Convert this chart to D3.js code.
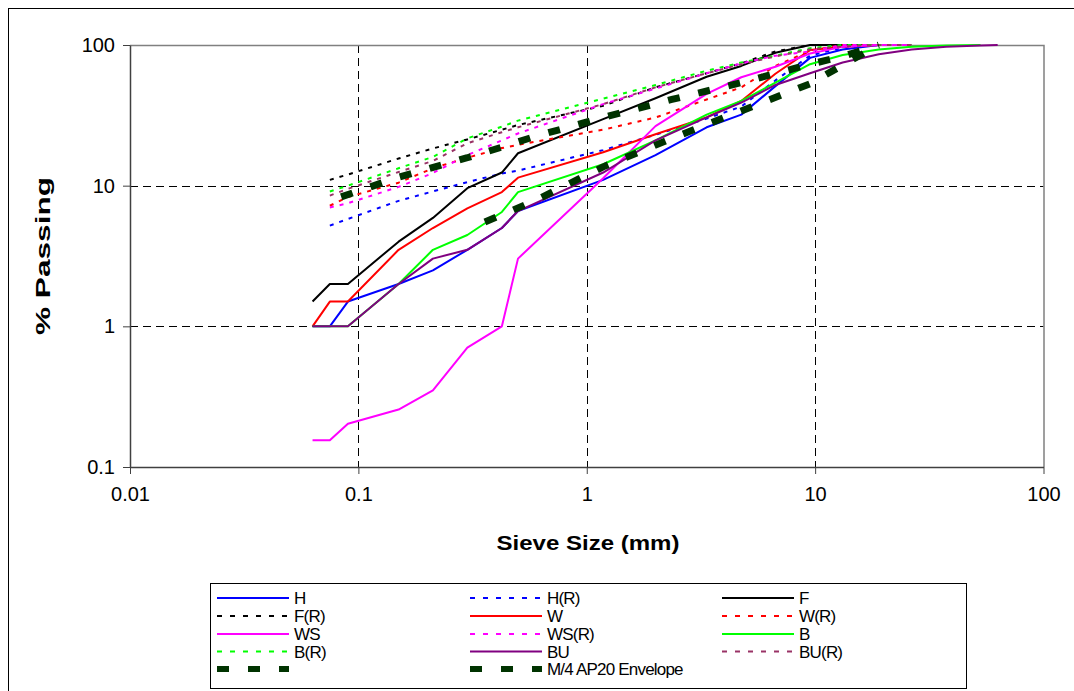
<!DOCTYPE html>
<html>
<head>
<meta charset="utf-8">
<script src="https://cdn.jsdelivr.net/npm/d3@7"></script>
<style>
  body { margin: 0; background: #fff; }
  svg { display: block; font-family: "Liberation Sans", Arial, sans-serif; }
</style>
</head>
<body>
<svg id="chart" width="1074" height="691"></svg>
<script>
// sieve sizes (mm) shared by the sample curves
var sieves = [0.063, 0.075, 0.09, 0.15, 0.212, 0.3, 0.425, 0.5, 1.18, 2, 3.35, 4.75, 6.7, 9.5, 13.2, 19, 26.5, 37.5, 53, 63];

// % passing (null = not tested)
var H    = [1, 1, 1.5, 2, 2.5, 3.5, 5, 6.6, 11, 16.5, 26, 32, 51, 81, 93, 100, 100, null, null, null];
var HR   = [null, 5.2, 5.8, 7.8, 9.1, 10.6, 12.2, 12.8, 17.9, 23, 30, 36.5, 56, 84, 96, 100, 100, null, null, null];
var F    = [1.5, 2, 2, 4, 5.9, 9.6, 12.4, 17, 29.7, 41.8, 59.5, 71, 88, 100, 100, 100, 100, null, null, null];
var FR   = [null, 11, 12, 15.6, 18.4, 21.3, 25, 27, 37, 50, 63, 74, 90, 100, 100, 100, 100, null, null, null];
var W    = [1, 1.5, 1.5, 3.5, 5, 6.9, 9, 11.4, 17.3, 23.2, 30.6, 40, 62.5, 92, 97, 100, 100, null, null, null];
var WR   = [null, 7.2, 8.3, 10.5, 13.3, 15.8, 18.5, 19.5, 25, 30.5, 41, 50, 71, 91, 100, 100, 100, null, null, null];
var WS   = [0.155, 0.155, 0.203, 0.256, 0.351, 0.705, 1, 3.03, 11.3, 26.5, 45, 59, 70, 87, 97, 100, 100, null, null, null];
var WSR  = [null, 7, 7.5, 9.8, 12.3, 16.5, 21, 23.5, 38, 49, 63, 74, 84, 90, 100, 100, 100, null, null, null];
var B    = [1, 1, 1, 2, 3.5, 4.46, 6.5, 9, 14.2, 21, 32, 40, 54, 73, 85, 93, 97, 99, 100, null];
var BR   = [null, 9.1, 10, 13.3, 16, 21.7, 26.3, 29, 41.6, 51.9, 65.7, 75, 84, 95, 100, 100, 100, null, null, null];
var BU   = [1, 1, 1, 2, 3.03, 3.5, 5, 6.6, 12.4, 21, 30.6, 39, 52, 63, 75, 86, 93, 97, 99, 100];
var BUR  = [null, 8.5, 9.5, 12.5, 15, 20, 24, 26, 38, 50, 63, 73, 83, 93, 98, 100, 100, null, null, null];

// M/4 AP20 grading envelope
var envSieves = [0.075, 0.15, 0.3, 0.425, 0.6, 1.18, 2.36, 4.75, 9.5, 13.2, 19];
var envUpper  = [7.8, 11.5, 15.8, 18.8, 22.5, 30.5, 41, 54, 73, 83, 100];
var envLower  = [null, null, 4.9, 6.2, 7.9, 13.6, 21.7, 34, 53, 72, 100];

var xTickValues = [0.01, 0.1, 1, 10, 100];
var xTickLabels = ["0.01", "0.1", "1", "10", "100"];
var yTickValues = [0.1, 1, 10, 100];
var yTickLabels = ["0.1", "1", "10", "100"];

var series = [
  {name: "H",     x: sieves, v: H,   color: "#0000ff", style: "solid"},
  {name: "H(R)",  x: sieves, v: HR,  color: "#0000ff", style: "dot"},
  {name: "F",     x: sieves, v: F,   color: "#000000", style: "solid"},
  {name: "F(R)",  x: sieves, v: FR,  color: "#000000", style: "dot"},
  {name: "W",     x: sieves, v: W,   color: "#ff0000", style: "solid"},
  {name: "W(R)",  x: sieves, v: WR,  color: "#ff0000", style: "dot"},
  {name: "WS",    x: sieves, v: WS,  color: "#ff00ff", style: "solid"},
  {name: "WS(R)", x: sieves, v: WSR, color: "#ff00ff", style: "dot"},
  {name: "B",     x: sieves, v: B,   color: "#00ff00", style: "solid"},
  {name: "B(R)",  x: sieves, v: BR,  color: "#00ff00", style: "dot"},
  {name: "BU",    x: sieves, v: BU,  color: "#800080", style: "solid"},
  {name: "BU(R)", x: sieves, v: BUR, color: "#993366", style: "dot"},
  {name: "",      x: envSieves, v: envLower, color: "#003300", style: "env", offset: 12},
  {name: "M/4 AP20 Envelope", x: envSieves, v: envUpper, color: "#003300", style: "env", offset: 19}
];

var svg = d3.select("#chart");

// outer chart border (runs off the right / bottom of the picture)
svg.append("rect")
  .attr("x", 8.5).attr("y", 8.5)
  .attr("width", 1100).attr("height", 700)
  .attr("fill", "none").attr("stroke", "#000");

var plot = {left: 130, right: 1043.5, top: 45, bottom: 467};

var x = d3.scaleLog().domain([0.01, 100]).range([plot.left, plot.right]);
var y = d3.scaleLog().domain([0.1, 100]).range([plot.bottom, plot.top]);

// grid
var grid = svg.append("g");
grid.selectAll(".gx")
  .data(xTickValues.slice(1, -1))
  .enter().append("line")
  .attr("x1", function (d) {return Math.round(x(d)) + 0.5;})
  .attr("x2", function (d) {return Math.round(x(d)) + 0.5;})
  .attr("y1", plot.top).attr("y2", plot.bottom)
  .attr("stroke", "#000").attr("stroke-dasharray", "8,5");
grid.selectAll(".gy")
  .data(yTickValues.slice(1, -1))
  .enter().append("line")
  .attr("y1", function (d) {return Math.round(y(d)) + 0.5;})
  .attr("y2", function (d) {return Math.round(y(d)) + 0.5;})
  .attr("x1", plot.left).attr("x2", plot.right)
  .attr("stroke", "#000").attr("stroke-dasharray", "8,5");

// plot frame: grey top / right
svg.append("path")
  .attr("d", "M" + plot.left + "," + (plot.top + 0.5) + "H" + (plot.right + 0.5) + "V" + plot.bottom)
  .attr("fill", "none").attr("stroke", "#808080").attr("stroke-width", 1.5);

// curves
var line = d3.line()
  .x(function (d) {return x(d[0]);})
  .y(function (d) {return y(d[1]);});

function dashFor(s) {
  if (s.style == "dot") return "4,6";
  if (s.style == "env") return "12,19";
  return null;
}

var curves = svg.append("g");
series.forEach(function (s) {
  var pts = s.x.map(function (sz, i) {return [sz, s.v[i]];})
    .filter(function (d) {return d[1] != null;});
  curves.append("path")
    .datum(pts)
    .attr("d", line)
    .attr("fill", "none")
    .attr("stroke", s.color)
    .attr("stroke-width", s.style == "env" ? 7 : 2)
    .attr("stroke-dasharray", dashFor(s))
    .attr("stroke-dashoffset", s.offset || 0)
    .attr("stroke-linejoin", "round");
});

// axes
var xAxis = d3.axisBottom(x)
  .tickValues(xTickValues)
  .tickFormat(function (d, i) {return xTickLabels[i];})
  .tickSize(7).tickSizeOuter(0).tickPadding(10);
var yAxis = d3.axisLeft(y)
  .tickValues(yTickValues)
  .tickFormat(function (d, i) {return yTickLabels[i];})
  .tickSize(7).tickSizeOuter(0).tickPadding(8);

var gx = svg.append("g")
  .attr("transform", "translate(0," + plot.bottom + ")")
  .call(xAxis);
var gy = svg.append("g")
  .attr("transform", "translate(" + plot.left + ",0)")
  .call(yAxis);

[gx, gy].forEach(function (g) {
  g.select(".domain").attr("stroke", "#404040").attr("stroke-width", 1.5);
  g.selectAll(".tick line").attr("stroke", "#404040");
  g.selectAll(".tick text")
    .attr("fill", "#000")
    .style("font-size", "20px")
    .style("font-family", "'Liberation Sans', Arial, sans-serif");
});
gx.selectAll(".tick text").attr("dy", "0.85em");

// axis titles
svg.append("text")
  .attr("x", 588).attr("y", 550)
  .attr("text-anchor", "middle")
  .style("font-size", "20px").style("font-weight", "bold")
  .attr("textLength", 183).attr("lengthAdjust", "spacingAndGlyphs")
  .text("Sieve Size (mm)");

svg.append("text")
  .attr("transform", "translate(50,256) rotate(-90)")
  .attr("text-anchor", "middle")
  .style("font-size", "20px").style("font-weight", "bold")
  .attr("textLength", 158).attr("lengthAdjust", "spacingAndGlyphs")
  .text("% Passing");

// legend
var legend = svg.append("g");
legend.append("rect")
  .attr("x", 210.5).attr("y", 583.5)
  .attr("width", 756).attr("height", 105)
  .attr("fill", "#fff").attr("stroke", "#000");

var colX = [217, 470, 722];
var rowY = [598, 616, 634, 651.5, 669];

series.forEach(function (s, i) {
  var cx = colX[i % 3], cy = rowY[Math.floor(i / 3)];
  legend.append("line")
    .attr("x1", cx).attr("x2", cx + 72)
    .attr("y1", cy).attr("y2", cy)
    .attr("stroke", s.color)
    .attr("stroke-width", s.style == "env" ? 6 : 2)
    .attr("stroke-dasharray", s.style == "dot" ? "5,8" : (s.style == "env" ? "12,19" : null));
  legend.append("text")
    .attr("x", cx + 77).attr("y", cy + 6)
    .style("font-size", "17px")
    .style("letter-spacing", "-0.8px")
    .text(s.name);
});
</script>
</body>
</html>
